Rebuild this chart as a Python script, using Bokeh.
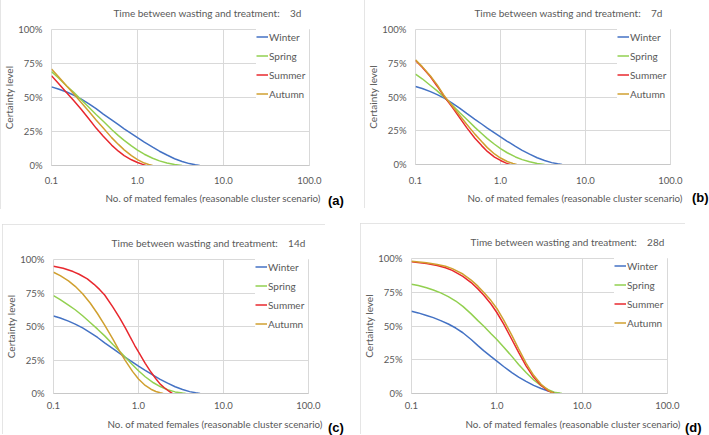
from bokeh.plotting import figure
from bokeh.models import FixedTicker, Legend, LegendItem, Title, Div
from bokeh.layouts import column, row
from bokeh.embed import file_html
from bokeh.resources import INLINE

FONT = "Lato"
TEXT = "#595959"
GRID = "#D9D9D9"

SEASONS = ["Winter", "Spring", "Summer", "Autumn"]
SEASON_COLORS = ["#4472C4", "#92D050", "#E8282E", "#D0A030"]
PANEL_LETTERS = ["(a)", "(b)", "(c)", "(d)"]
DELAYS = ["3d", "7d", "14d", "28d"]
TITLE_TEXT = "Time between wasting and treatment:"
X_LABEL = "No. of mated females (reasonable cluster scenario)"
Y_LABEL = "Certainty level"
X_TICKS = [0.1, 1, 10, 100]
X_TICK_LABELS = ["0.1", "1.0", "10.0", "100.0"]
Y_TICKS = [0, 0.25, 0.5, 0.75, 1.0]
Y_TICK_LABELS = ["0%", "25%", "50%", "75%", "100%"]

# Winter curve (identical for 3d, 7d, 14d)
winter_x = [0.1, 0.12, 0.15, 0.18, 0.22, 0.27, 0.33, 0.4, 0.5, 0.6, 0.7, 0.85, 1.0, 1.2, 1.5, 1.8, 2.2, 2.7, 3.3, 4.0, 4.7, 5.3]
winter_y = [0.578, 0.563, 0.54, 0.518, 0.49, 0.455, 0.418, 0.378, 0.335, 0.30, 0.27, 0.235, 0.205, 0.172, 0.135, 0.105, 0.077, 0.05, 0.03, 0.014, 0.005, 0.0]

# (a) 3 days
a_spring_x = [0.1, 0.12, 0.15, 0.18, 0.22, 0.27, 0.33, 0.4, 0.5, 0.6, 0.7, 0.85, 1.0, 1.2, 1.5, 1.8, 2.2, 2.7, 3.3]
a_spring_y = [0.69, 0.645, 0.585, 0.54, 0.485, 0.43, 0.375, 0.325, 0.265, 0.22, 0.185, 0.145, 0.113, 0.083, 0.053, 0.034, 0.018, 0.007, 0.0]
a_summer_x = [0.1, 0.12, 0.15, 0.18, 0.22, 0.27, 0.33, 0.4, 0.5, 0.6, 0.7, 0.85, 1.0, 1.15, 1.25]
a_summer_y = [0.66, 0.605, 0.535, 0.48, 0.415, 0.345, 0.275, 0.215, 0.15, 0.105, 0.073, 0.042, 0.022, 0.008, 0.0]
a_autumn_x = [0.1, 0.12, 0.15, 0.18, 0.22, 0.27, 0.33, 0.4, 0.5, 0.6, 0.7, 0.85, 1.0, 1.2, 1.35, 1.5]
a_autumn_y = [0.71, 0.655, 0.585, 0.53, 0.465, 0.40, 0.335, 0.275, 0.205, 0.155, 0.115, 0.072, 0.043, 0.018, 0.007, 0.0]

# (b) 7 days
b_spring_x = [0.1, 0.12, 0.15, 0.18, 0.22, 0.27, 0.33, 0.4, 0.5, 0.6, 0.7, 0.85, 1.0, 1.2, 1.5, 1.8, 2.2, 2.7, 3.3]
b_spring_y = [0.67, 0.635, 0.585, 0.545, 0.495, 0.44, 0.385, 0.335, 0.275, 0.23, 0.192, 0.15, 0.118, 0.087, 0.056, 0.036, 0.02, 0.008, 0.0]
b_summer_x = [0.1, 0.12, 0.15, 0.18, 0.22, 0.27, 0.33, 0.4, 0.5, 0.6, 0.7, 0.85, 1.0, 1.15, 1.3]
b_summer_y = [0.77, 0.72, 0.65, 0.58, 0.50, 0.425, 0.347, 0.273, 0.195, 0.14, 0.097, 0.055, 0.03, 0.012, 0.0]
b_autumn_x = [0.1, 0.12, 0.15, 0.18, 0.22, 0.27, 0.33, 0.4, 0.5, 0.6, 0.7, 0.85, 1.0, 1.2, 1.4, 1.55]
b_autumn_y = [0.775, 0.725, 0.655, 0.59, 0.505, 0.435, 0.365, 0.298, 0.225, 0.17, 0.125, 0.078, 0.048, 0.022, 0.008, 0.0]

# (c) 14 days
c_spring_x = [0.1, 0.12, 0.15, 0.18, 0.22, 0.27, 0.33, 0.4, 0.5, 0.6, 0.7, 0.85, 1.0, 1.2, 1.5, 1.8, 2.2, 2.7, 3.3, 3.6]
c_spring_y = [0.73, 0.70, 0.66, 0.625, 0.58, 0.53, 0.48, 0.43, 0.365, 0.315, 0.27, 0.215, 0.17, 0.125, 0.08, 0.052, 0.028, 0.012, 0.003, 0.0]
c_summer_x = [0.1, 0.13, 0.17, 0.2, 0.25, 0.3, 0.35, 0.4, 0.5, 0.6, 0.7, 0.8, 0.9, 1.0, 1.2, 1.4, 1.6, 1.8, 2.0, 2.3, 2.5]
c_summer_y = [0.95, 0.935, 0.91, 0.89, 0.855, 0.815, 0.775, 0.735, 0.645, 0.565, 0.49, 0.42, 0.36, 0.31, 0.225, 0.16, 0.11, 0.07, 0.045, 0.015, 0.0]
c_autumn_x = [0.1, 0.12, 0.15, 0.18, 0.22, 0.27, 0.33, 0.4, 0.5, 0.6, 0.7, 0.85, 1.0, 1.2, 1.4, 1.6, 1.8, 1.95]
c_autumn_y = [0.905, 0.88, 0.84, 0.80, 0.745, 0.675, 0.595, 0.51, 0.405, 0.315, 0.245, 0.165, 0.108, 0.06, 0.032, 0.015, 0.005, 0.0]

# (d) 28 days
d_winter_x = [0.1, 0.12, 0.15, 0.18, 0.22, 0.27, 0.33, 0.4, 0.5, 0.6, 0.7, 0.85, 1.0, 1.2, 1.5, 1.8, 2.2, 2.7, 3.3, 4.0, 4.7, 5.5]
d_winter_y = [0.61, 0.597, 0.578, 0.562, 0.54, 0.515, 0.485, 0.45, 0.40, 0.355, 0.318, 0.275, 0.24, 0.20, 0.155, 0.122, 0.09, 0.06, 0.037, 0.019, 0.007, 0.0]
d_spring_x = [0.1, 0.12, 0.15, 0.18, 0.22, 0.27, 0.33, 0.4, 0.5, 0.6, 0.7, 0.85, 1.0, 1.2, 1.5, 1.8, 2.2, 2.7, 3.3, 4.0, 4.7, 5.8]
d_spring_y = [0.81, 0.80, 0.783, 0.767, 0.745, 0.718, 0.685, 0.645, 0.59, 0.54, 0.50, 0.445, 0.40, 0.345, 0.275, 0.215, 0.155, 0.10, 0.058, 0.028, 0.01, 0.0]
d_summer_x = [0.1, 0.15, 0.2, 0.25, 0.3, 0.4, 0.5, 0.6, 0.7, 0.85, 1.0, 1.2, 1.5, 1.8, 2.2, 2.7, 3.3, 4.0, 4.7]
d_summer_y = [0.975, 0.962, 0.948, 0.932, 0.912, 0.868, 0.822, 0.775, 0.73, 0.665, 0.60, 0.515, 0.40, 0.305, 0.205, 0.12, 0.06, 0.02, 0.0]
d_autumn_x = [0.1, 0.15, 0.2, 0.25, 0.3, 0.4, 0.5, 0.6, 0.7, 0.85, 1.0, 1.2, 1.5, 1.8, 2.2, 2.7, 3.3, 4.0, 4.6]
d_autumn_y = [0.98, 0.968, 0.956, 0.942, 0.925, 0.885, 0.84, 0.795, 0.75, 0.69, 0.63, 0.545, 0.43, 0.33, 0.225, 0.135, 0.068, 0.025, 0.0]

PANEL_SERIES = [
    [(winter_x, winter_y), (a_spring_x, a_spring_y), (a_summer_x, a_summer_y), (a_autumn_x, a_autumn_y)],
    [(winter_x, winter_y), (b_spring_x, b_spring_y), (b_summer_x, b_summer_y), (b_autumn_x, b_autumn_y)],
    [(winter_x, winter_y), (c_spring_x, c_spring_y), (c_summer_x, c_summer_y), (c_autumn_x, c_autumn_y)],
    [(d_winter_x, d_winter_y), (d_spring_x, d_spring_y), (d_summer_x, d_summer_y), (d_autumn_x, d_autumn_y)],
]

# ---- layout geometry (pixels) ----
PANEL_SIZE = [(326, 215), (324, 214), (323, 210), (325, 211)]
PANEL_BORDERS = [(51, 17, 34, 44), (51, 18, 34, 44), (51, 17, 34, 41), (51, 18, 34, 41)]  # L, R, T, B
PANEL_MARGIN = [(-6, 0, 0, 0), (-6, 0, 0, 6), (2, 0, 0, 2), (1, 0, 0, 2)]
TITLE_OFFSET = [8, 8, 3, 3]
XLABEL_OFFSET = [54, 52, 54, 54]
XTICK_STANDOFF = [11, 12, 8, 8]
XTITLE_STANDOFF = [6, 6, 9, 9]
LETTER_SIZE = [(30, 29), (17, 32), (30, 15), (24, 15)]  # width, height
LETTER_MARGIN = [(193, 0, 0, 2), (190, 0, 0, 4), (198, 0, 0, 3), (198, 0, 0, 0)]


def make_panel(i):
    w, h = PANEL_SIZE[i]
    L, R, T, B = PANEL_BORDERS[i]
    p = figure(width=w, height=h, x_axis_type="log", x_range=(0.1, 100), y_range=(0, 1),
               output_backend="svg", toolbar_location=None,
               min_border_left=L, min_border_right=R, min_border_top=T, min_border_bottom=B,
               title=TITLE_TEXT + "\u00a0" * 4 + DELAYS[i], margin=PANEL_MARGIN[i],
               styles={"outline": "1px solid #DCDCDC", "outline-offset": "-1px"})
    p.background_fill_color = "white"
    p.border_fill_color = "white"
    p.outline_line_color = GRID

    p.title.align = "right"
    p.title.offset = TITLE_OFFSET[i]
    p.title.text_font = FONT
    p.title.text_font_size = "10px"
    p.title.text_font_style = "normal"
    p.title.text_color = TEXT
    p.title.standoff = 21

    xt = Title(text=X_LABEL, align="left", offset=XLABEL_OFFSET[i], text_font=FONT,
               text_font_size="9.8px", text_font_style="normal", text_color=TEXT,
               standoff=XTITLE_STANDOFF[i])
    p.add_layout(xt, "below")

    p.xaxis.ticker = FixedTicker(ticks=X_TICKS)
    p.xaxis.major_label_overrides = {t: s for t, s in zip(X_TICKS, X_TICK_LABELS)}
    p.yaxis.ticker = FixedTicker(ticks=Y_TICKS)
    p.yaxis.major_label_overrides = {t: s for t, s in zip(Y_TICKS, Y_TICK_LABELS)}
    for ax in (p.xaxis, p.yaxis):
        ax.major_tick_line_color = None
        ax.minor_tick_line_color = None
        ax.major_tick_out = 0
        ax.major_tick_in = 0
        ax.minor_tick_out = 0
        ax.minor_tick_in = 0
        ax.major_label_text_font = FONT
        ax.major_label_text_font_size = "9.5px"
        ax.major_label_text_color = TEXT
    p.xaxis.axis_line_color = "#C8C8C8"
    p.xaxis.major_label_standoff = XTICK_STANDOFF[i]
    p.yaxis.axis_line_color = None
    p.yaxis.major_label_standoff = 9
    p.yaxis.axis_label = Y_LABEL
    p.yaxis.axis_label_text_font = FONT
    p.yaxis.axis_label_text_font_size = "10px"
    p.yaxis.axis_label_text_font_style = "normal"
    p.yaxis.axis_label_text_color = TEXT
    p.yaxis.axis_label_standoff = 0

    p.xgrid.grid_line_color = GRID
    p.ygrid.grid_line_color = GRID

    items = []
    for name, color, (xs, ys) in zip(SEASONS, SEASON_COLORS, PANEL_SERIES[i]):
        r = p.line(xs, ys, line_color=color, line_width=1.5)
        items.append(LegendItem(label=name, renderers=[r]))
    legend = Legend(items=items, location="top_right", margin=0, padding=2,
                    glyph_width=12, glyph_height=15, label_height=15, spacing=4,
                    label_standoff=1, label_width=40,
                    label_text_font=FONT, label_text_font_size="10px",
                    label_text_color=TEXT, background_fill_color="white",
                    background_fill_alpha=1.0, border_line_color=None)
    p.add_layout(legend)
    return p


def make_letter(i):
    w, h = LETTER_SIZE[i]
    return Div(text=PANEL_LETTERS[i], width=w, height=h, margin=LETTER_MARGIN[i],
               styles={"font-family": "'Liberation Sans', Arial, sans-serif",
                       "font-weight": "bold", "font-size": "13px", "line-height": "16px",
                       "color": "#000000", "overflow": "hidden", "white-space": "nowrap"})


panels = [make_panel(i) for i in range(4)]
letters = [make_letter(i) for i in range(4)]
layout = column(row(panels[0], letters[0], panels[1], letters[1]),
                row(panels[2], letters[2], panels[3], letters[3]))

open("out.html", "w").write(file_html(layout, INLINE))
